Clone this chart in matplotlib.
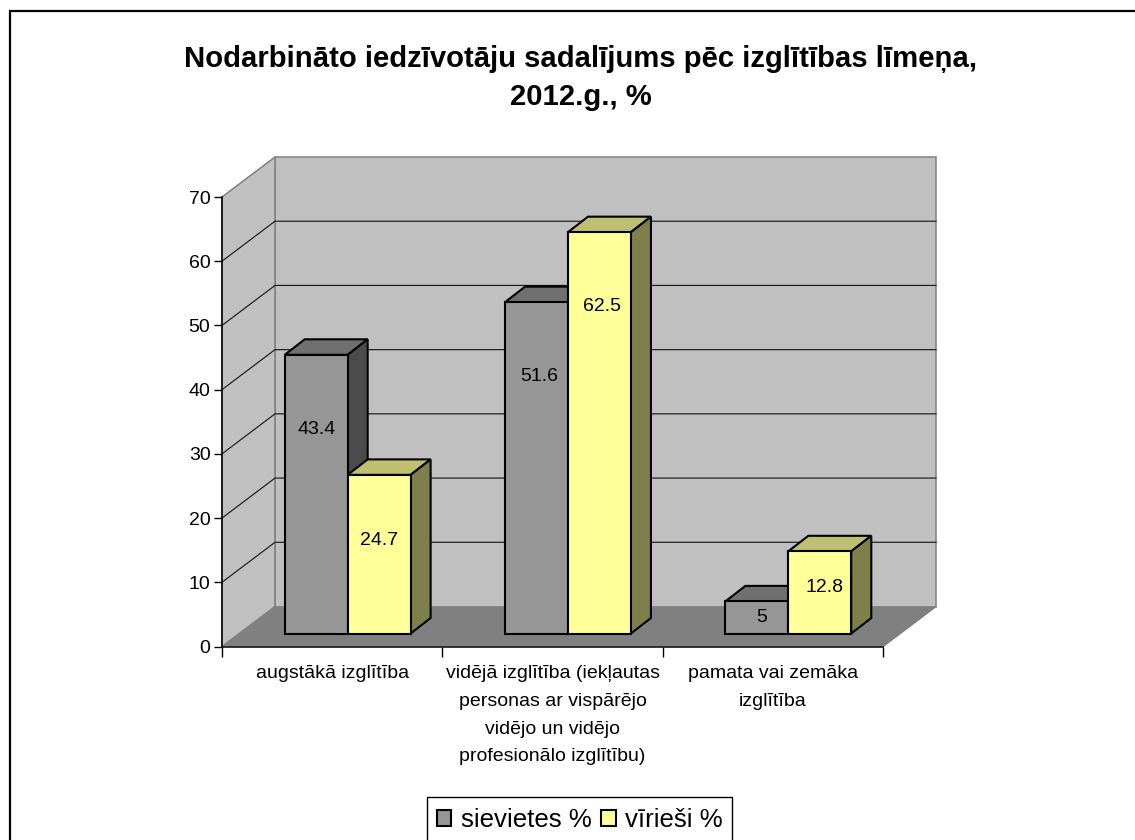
import numpy as np
import matplotlib
matplotlib.use('Agg')
from matplotlib import pyplot as plt
from matplotlib.lines import Line2D
from matplotlib.patches import Patch, Polygon, Rectangle

plt.rcParams['font.family'] = ['Liberation Sans', 'DejaVu Sans']

title = 'Nodarbināto iedzīvotāju sadalījums pēc izglītības līmeņa,\n2012.g., %'
categories = ['augstākā izglītība',
              'vidējā izglītība (iekļautas\npersonas ar vispārējo\nvidējo un vidējo\nprofesionālo izglītību)',
              'pamata vai zemāka\nizglītība']
women = [43.4, 51.6, 5]
men = [24.7, 62.5, 12.8]
series_names = ['sievietes %', 'vīrieši %']
yticks = [0, 10, 20, 30, 40, 50, 60, 70]

W, H = 1135, 840
# pixels of the front plane of the 3d box
LEFT, RIGHT, BOTTOM, TOP = 222, 883, 646.5, 197

fig = plt.figure(figsize=(W / 100, H / 100), dpi=100, facecolor='w')
ax = fig.add_axes([LEFT / W, 1 - BOTTOM / H, (RIGHT - LEFT) / W, (BOTTOM - TOP) / H])
ax.set_xlim(0, len(categories))
ax.set_ylim(0, 70)
ax.patch.set_visible(False)

px_x = len(categories) / (RIGHT - LEFT)
px_y = 70 / (BOTTOM - TOP)
DX, DY = 53 * px_x, 40 * px_y


def poly(points, color, edge='none', lw=0.0, z=1):
    ax.add_patch(Polygon(points, closed=True, facecolor=color, edgecolor=edge,
                         linewidth=lw, clip_on=False, zorder=z, joinstyle='miter'))


# walls and floor
n = len(categories)
poly([(DX, DY), (n + DX, DY), (n + DX, 70 + DY), (DX, 70 + DY)], '#C0C0C0', '#808080', 1.1)
poly([(0, 0), (DX, DY), (DX, 70 + DY), (0, 70)], '#C0C0C0', '#808080', 1.1)
poly([(0, 0), (n, 0), (n + DX, DY), (DX, DY)], '#808080')
ax.plot([n, n + DX], [0, DY], color='#808080', lw=1.1, zorder=2, clip_on=False)

for v in yticks[1:-1]:
    ax.plot([0, DX, n + DX], [v, v + DY, v + DY], color='#1a1a1a', lw=0.85, zorder=2,
            clip_on=False, solid_joinstyle='miter')


def bar3d(x, v, w, front, top, side):
    x0 = x + 15.5 * px_x
    y0 = 13 * px_y
    dx, dy = 20 * px_x, 15.5 * px_y
    poly([(x0, y0 + v), (x0 + w, y0 + v), (x0 + w + dx, y0 + v + dy), (x0 + dx, y0 + v + dy)],
         top, 'k', 1.5, 3)
    poly([(x0 + w, y0), (x0 + w + dx, y0 + dy), (x0 + w + dx, y0 + v + dy), (x0 + w, y0 + v)],
         side, 'k', 1.5, 3)
    poly([(x0, y0), (x0 + w, y0), (x0 + w, y0 + v), (x0, y0 + v)], front, 'k', 1.5, 3)
    return x0 + w / 2, y0


bar_w = 1 / 3.5
gap = (1 - 2 * bar_w) / 2
for i in range(n):
    for j, (vals, cols) in enumerate([(women, ('#969696', '#707070', '#4B4B4B')),
                                      (men, ('#FFFF99', '#BFBF72', '#7F7F4C'))]):
        v = vals[i]
        cx, y0 = bar3d(i + gap + j * bar_w, v, bar_w, *cols)
        # excel puts the labels some way under the top of the bar
        ax.text(cx + i * 2.5 * px_x, y0 + v - min(0.39 * v + 0.6, 11.6), str(v), ha='center', va='center',
                fontsize=14, color='k', zorder=5)

for s in ['top', 'right']:
    ax.spines[s].set_visible(False)
for s in ['left', 'bottom']:
    ax.spines[s].set_linewidth(1.1)
ax.set_yticks(yticks)
ax.tick_params(axis='y', length=5.8, width=1.0, labelsize=14, pad=2.5)
ax.set_xticks(range(n + 1))
ax.set_xticklabels([])
ax.tick_params(axis='x', length=7, width=1.0)

for i, c in enumerate(categories):
    ax.annotate(c, (i + 0.5, 0), xytext=(0, -(665 - BOTTOM) * 0.72), textcoords='offset points',
                ha='center', va='top', fontsize=14, linespacing=1.83,
                annotation_clip=False)

fig.text(581 / W, 1 - 59 / H, title.split('\n')[0], ha='center', va='center',
         fontsize=21.1, fontweight='bold')
fig.text(581 / W, 1 - 97 / H, title.split('\n')[1], ha='center', va='center',
         fontsize=21.1, fontweight='bold')

# chart area border, only top and left are inside the picture
fig.add_artist(Line2D([10 / W, 10 / W], [0, 1 - 10 / H], color='k', lw=1.6, solid_capstyle='butt'))
fig.add_artist(Line2D([9 / W, 1], [1 - 11 / H, 1 - 11 / H], color='k', lw=1.6, solid_capstyle='butt'))

# legend box runs off the bottom of the picture
fig.add_artist(Rectangle((427 / W, -5 / H), 305 / W, (H - 797 + 5) / H, facecolor='w', edgecolor='k',
                         linewidth=1.0, transform=fig.transFigure))
handles = [Patch(facecolor='#969696', edgecolor='k', linewidth=1.5),
           Patch(facecolor='#FFFF99', edgecolor='k', linewidth=1.5)]
leg = fig.legend(handles, series_names, ncol=2, loc='center left',
                 bbox_to_anchor=(427 / W, 1 - 820 / H), borderaxespad=0,
                 fontsize=18.6, handlelength=0.55, handleheight=0.55, handletextpad=0.38,
                 columnspacing=0.37, borderpad=0.39, frameon=False)

plt.savefig('out.png', dpi=100, facecolor='w')
